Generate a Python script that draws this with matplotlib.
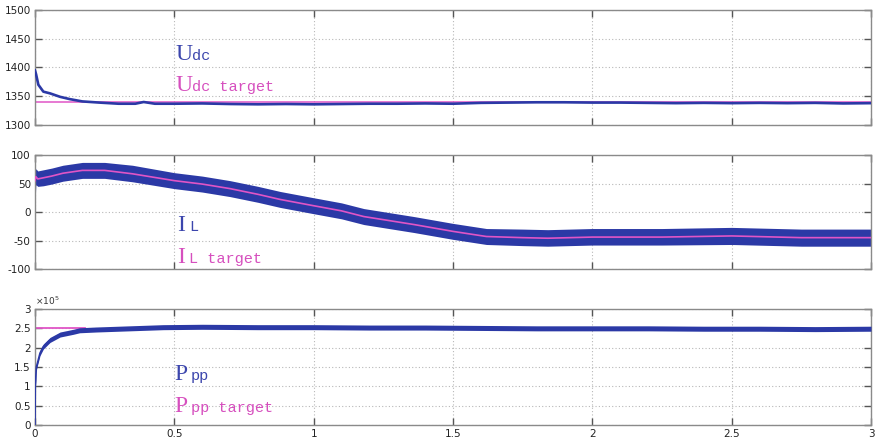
import matplotlib
matplotlib.use("Agg")
import matplotlib.pyplot as plt
from matplotlib.ticker import FormatStrFormatter, MultipleLocator

# ---------------- data ----------------
t_udc = [0, 0.004, 0.012, 0.03, 0.054, 0.09, 0.125, 0.17, 0.23, 0.3, 0.36, 0.39, 0.43,
         0.5, 0.6, 0.7, 0.8, 0.9, 1.0, 1.1, 1.2, 1.3, 1.4, 1.5, 1.6, 1.7, 1.8, 1.9,
         2.0, 2.1, 2.2, 2.3, 2.4, 2.5, 2.6, 2.7, 2.8, 2.9, 3.0]
udc = [1395, 1388, 1370, 1358, 1355, 1349, 1345, 1341, 1339, 1337, 1337, 1340, 1337,
       1337, 1337.5, 1336.5, 1336, 1336.5, 1336, 1336.5, 1337, 1337, 1337.5, 1337, 1338.5,
       1339, 1339.5, 1339.5, 1339, 1339, 1338.5, 1338, 1338.5, 1338, 1338.5, 1338, 1338.5,
       1337.5, 1338]
udc_target = 1340

t_il = [0, 0.003, 0.01, 0.03, 0.06, 0.1, 0.17, 0.25, 0.35, 0.5, 0.6, 0.7, 0.8, 0.88,
        1.0, 1.1, 1.18, 1.27, 1.36, 1.5, 1.62, 1.75, 1.84, 2.0, 2.25, 2.5, 2.75, 3.0]
il_target = [55, 62, 58, 60, 63, 68, 73, 73, 67, 55, 49, 41, 31, 22,
             11, 2, -8, -15, -22, -34, -43, -45, -46, -44, -44, -42, -45, -45]
il_upper = [70, 76, 72, 74, 77, 82, 87, 87, 82, 69, 63, 55, 45, 36,
            25, 16, 6, -1, -8, -20, -29, -30, -31, -29, -29, -27, -30, -30]
il_lower = [15, 48, 45, 46, 49, 54, 59, 59, 53, 41, 35, 27, 17, 8,
            -3, -12, -22, -29, -36, -48, -57, -59, -60, -58, -58, -57, -60, -60]

t_p = [0, 0.001, 0.005, 0.018, 0.03, 0.054, 0.09, 0.137, 0.16, 0.22, 0.34, 0.46,
       0.6, 0.8, 1.0, 1.2, 1.4, 1.6, 1.8, 2.0, 2.2, 2.4, 2.6, 2.8, 3.0]
ppp = [0, 1.0, 1.5, 1.86, 2.03, 2.2, 2.34, 2.41, 2.45, 2.47, 2.5, 2.53,
       2.54, 2.53, 2.53, 2.52, 2.52, 2.51, 2.5, 2.5, 2.5, 2.49, 2.49, 2.48, 2.49]
ppp_band = 0.065
ppp_target = 2.5

x_ticks = [0, 0.5, 1, 1.5, 2, 2.5, 3]

# ---------------- style ----------------
BLUE = "#2b39a6"
MAG = "#e055c6"
TXT_BLUE = "#3c46ad"
TXT_MAG = "#d64fbe"

fig = plt.figure(figsize=(8.76, 4.45), dpi=100)
L, W = 35 / 876, 836 / 876
ax1 = fig.add_axes([L, 1 - 125 / 445, W, 115 / 445])
ax2 = fig.add_axes([L, 1 - 269 / 445, W, 114 / 445])
ax3 = fig.add_axes([L, 1 - 425 / 445, W, 116 / 445])


def style(ax, ylim, ystep, fmt):
    ax.set_xlim(0, 3)
    ax.set_ylim(*ylim)
    ax.set_xticks(x_ticks)
    ax.yaxis.set_major_locator(MultipleLocator(ystep))
    ax.yaxis.set_major_formatter(FormatStrFormatter(fmt))
    ax.xaxis.set_major_formatter(FormatStrFormatter("%g"))
    ax.grid(True, linestyle=(0, (1, 2)), color="#b8b8b8", linewidth=0.8)
    ax.tick_params(direction="in", length=5, width=1, color="#555555",
                   top=True, right=True, labelsize=7.5, labelcolor="#222222", pad=3)
    for s in ax.spines.values():
        s.set_color("#8a8a8a")
        s.set_linewidth(1)


def label(ax, x, y, big, small, off):
    col = TXT_MAG if "target" in small else TXT_BLUE
    ax.text(x, y, big, color=col, family="Liberation Serif", fontsize=17)
    ax.annotate(small, xy=(x, y), xytext=(off, 0), textcoords="offset points",
                color=col, family="Liberation Mono", fontsize=11)


# top panel
ax1.axhline(udc_target, color=MAG, lw=1.1, zorder=2)
ax1.plot(t_udc, udc, color=BLUE, lw=1.9, zorder=3)
style(ax1, (1300, 1500), 50, "%g")
ax1.set_xticklabels([])
label(ax1, 0.505, 1413, "U", "dc", 11.5)
label(ax1, 0.505, 1359, "U", "dc target", 11.5)

# middle panel
ax2.fill_between(t_il, il_lower, il_upper, color=BLUE, lw=0, zorder=2)
ax2.plot(t_il, il_target, color=MAG, lw=1.2, zorder=3)
style(ax2, (-100, 100), 50, "%g")
ax2.set_xticklabels([])
label(ax2, 0.51, -33, "I", "L", 8.5)
label(ax2, 0.51, -89, "I", "L target", 8.5)

# bottom panel
ax3.axhline(ppp_target, xmax=0.06, color=MAG, lw=1.3, zorder=2)
ppp_lo = [v - ppp_band if i > 0 else v for i, v in enumerate(ppp)]
ppp_hi = [v + ppp_band if i > 0 else v for i, v in enumerate(ppp)]
ax3.fill_between(t_p, ppp_lo, ppp_hi, color=BLUE, lw=0, zorder=3)
ax3.plot(t_p, ppp, color=BLUE, lw=1.2, zorder=3)
style(ax3, (0, 3), 0.5, "%g")
ax3.text(0.0, 1.015, "×10$^5$", transform=ax3.transAxes, fontsize=6.5,
         color="#333333", va="bottom", ha="left")
label(ax3, 0.5, 1.16, "P", "pp", 12)
label(ax3, 0.5, 0.34, "P", "pp target", 12)

fig.savefig("out.png", dpi=100)
